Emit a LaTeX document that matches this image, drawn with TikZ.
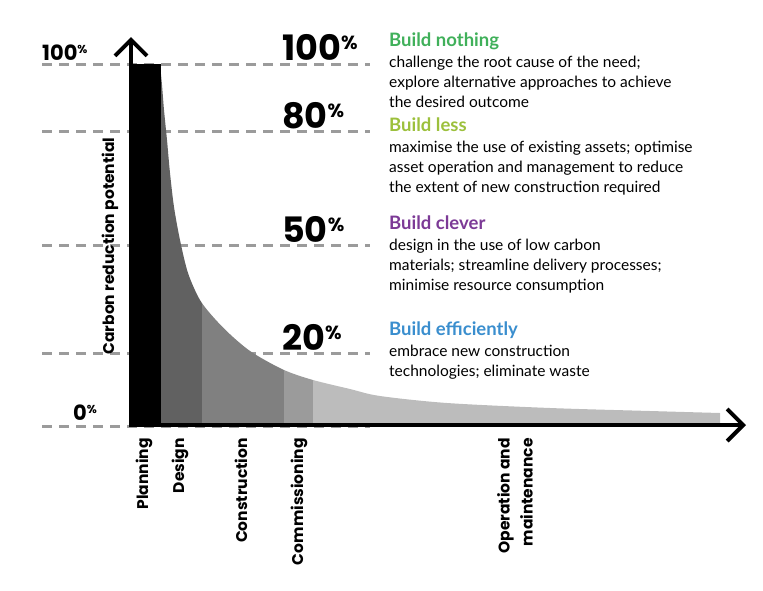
\documentclass[tikz,border=0pt]{standalone}
\usepackage{fontspec}
\setmainfont{Lato}
\newfontfamily\pctfont{Poppins}
\usetikzlibrary{arrows.meta, positioning}
\definecolor{NothingGreen}{RGB}{64,176,90}
\definecolor{LessLime}{RGB}{156,192,60}
\definecolor{CleverPurple}{RGB}{124,58,150}
\definecolor{EffBlue}{RGB}{58,142,206}
\definecolor{GridGrey}{RGB}{155,155,155}
\definecolor{DesignGrey}{RGB}{97,97,97}
\definecolor{BuildGrey}{RGB}{128,128,128}
\definecolor{CommGrey}{RGB}{155,155,155}
\definecolor{OpsGrey}{RGB}{188,188,188}
\newcommand{\pcsup}[2]{\raisebox{#2}{\fontsize{#1}{#1}\selectfont\%}}

\begin{document}
\begin{tikzpicture}[
        x=1pt, y=-1pt,
        gridline/.style={draw=GridGrey, line width=3pt, dash pattern=on 10pt off 7pt},
        axis/.style={line width=4pt, line join=miter,
            {Straight Barb[length=16pt,width=32pt]}-{Straight Barb[length=16pt,width=32pt]}},
        bigpct/.style={font=\pctfont\bfseries\fontsize{35}{35}\selectfont, anchor=base west, inner sep=0pt},
        smallpct/.style={font=\pctfont\bfseries\fontsize{21}{21}\selectfont, anchor=base west, inner sep=0pt},
        head/.style={font=\bfseries\fontsize{18.5}{20}\selectfont, anchor=base west, inner sep=0pt},
        body/.style={font=\fontsize{15.5}{19.8}\selectfont, align=left, inner sep=0pt},
        phase/.style={font=\pctfont\bfseries\fontsize{15.5}{23}\selectfont, rotate=90, anchor=east, align=right, inner sep=0pt},
        ylab/.style={font=\pctfont\bfseries\fontsize{15.5}{17}\selectfont, rotate=90, inner sep=0pt}
    ]
        \useasboundingbox (0,0) rectangle (763,590);

        % dashed levels
        \foreach \yy in {64,131,245,353,426}
            \draw[gridline] (42,\yy) -- (370,\yy);

        % area under the curve, one band per stage
        \begin{scope}
            \clip (160,426) -- plot[smooth, tension=0.5] coordinates {(160,64) (162,85) (164,110) (167,140) (170,173) (174,207) (180,240) (188,273) (200,300) (215,319) (233,337) (253,353) (284,370) (313,380) (350,389) (380,396) (447,403) (550,408) (650,411) (720,413)} -- (720,426) -- cycle;
            \foreach \xa/\xb/\col in {160/202/DesignGrey, 202/284/BuildGrey, 284/313/CommGrey, 313/725/OpsGrey}
                \fill[\col] (\xa,50) rectangle (\xb,430);
        \end{scope}
        \fill (131,64) rectangle (161,426);

        % axes
        \coordinate (ytip) at (131,37);
        \coordinate (xtip) at (746,425);
        \draw[axis] (ytip) |- (xtip);

        % percentages
        \node[smallpct] (left100) at (42,60) {100\pcsup{11.5}{6.5pt}};
        \node[smallpct] (left0) at (73,420) {0\pcsup{11.5}{6.5pt}};
        \node[bigpct] (p100) at (282,60) {100\pcsup{19}{11pt}};
        \node[bigpct] (p80) at (282,128) {80\pcsup{19}{11pt}};
        \node[bigpct] (p50) at (282,242) {50\pcsup{19}{11pt}};
        \node[bigpct] (p20) at (282,350) {20\pcsup{19}{11pt}};

        % approaches
        \node[head, text=NothingGreen] (nothing) at (389,46) {Build nothing};
        \node[body, below right=10pt and 0pt of nothing.base west] (nothingtxt)
            {challenge the root cause of the need;\\explore alternative approaches to achieve\\the desired outcome};
        \node[head, text=LessLime] (less) at (389,131) {Build less};
        \node[body, below right=10pt and 0pt of less.base west] (lesstxt)
            {maximise the use of existing assets; optimise\\asset operation and management to reduce\\the extent of new construction required};
        \node[head, text=CleverPurple] (clever) at (389,229) {Build clever};
        \node[body, below right=10pt and 0pt of clever.base west] (clevertxt)
            {design in the use of low carbon\\materials; streamline delivery processes;\\minimise resource consumption};
        \node[head, text=EffBlue] (efficient) at (389,335) {Build efficiently};
        \node[body, below right=10pt and 0pt of efficient.base west] (efficienttxt)
            {embrace new construction\\technologies; eliminate waste};

        % axis labels
        \node[ylab] (ylabel) at (110,246) {Carbon reduction potential};
        \node[phase] (planning) at (144,438) {Planning};
        \node[phase] (design) at (180,438) {Design};
        \node[phase] (construction) at (241,438) {Construction};
        \node[phase] (commissioning) at (299,438) {Commissioning};
        \node[phase] (operation) at (515,438) {Operation and\\maintenance};
    \end{tikzpicture}
\end{document}
